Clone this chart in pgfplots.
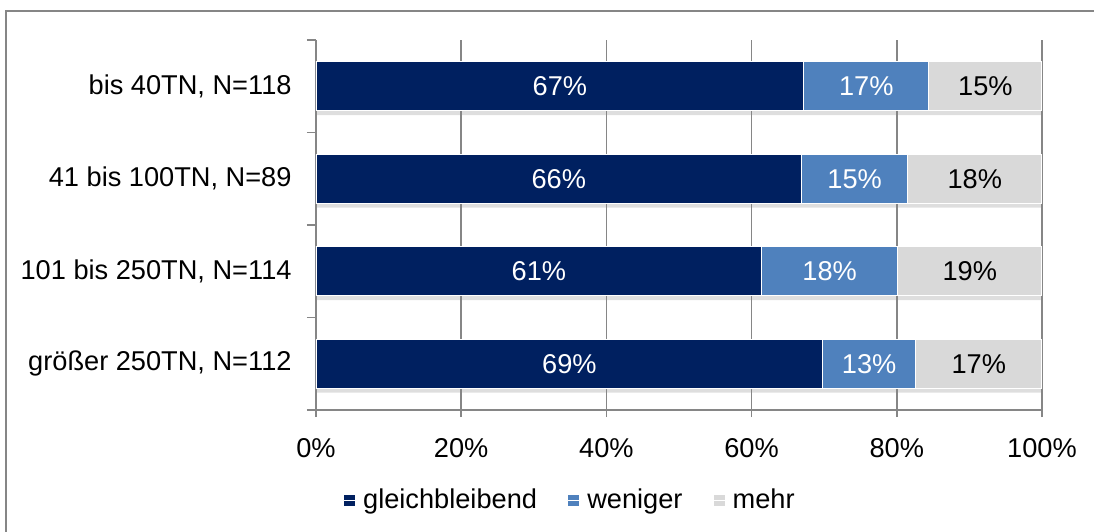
\documentclass[border=0pt]{standalone}
\usepackage{pgfplots}
\pgfplotsset{compat=1.18}
\usepackage{pgfplotstable}
\usepackage{fontspec}
\setmainfont{Liberation Sans}

\definecolor{navy}{RGB}{0,32,96}
\definecolor{midblue}{RGB}{79,129,189}
\definecolor{lightgray}{RGB}{217,217,217}
\definecolor{axgray}{RGB}{134,134,134}

% shares per group (bar lengths) and the printed, rounded labels
\pgfplotstableread{
cat a    b    c    la lb lc
0   67.2 17.2 15.6 67 17 15
1   66.9 14.6 18.5 66 15 18
2   61.4 18.7 19.9 61 18 19
3   69.8 12.8 17.4 69 13 17
}\shares

\pgfplotsset{
  common/.style={
    at={(0,0)}, anchor=south west,
    scale only axis, width=363pt, height=185pt,
    xmin=0, xmax=100, ymin=-0.5, ymax=3.5, y dir=reverse,
  },
}

\begin{document}
\fontsize{13.6}{16}\selectfont
\begin{tikzpicture}[font=\fontsize{13.6}{16}\selectfont]
\useasboundingbox (-158pt,-60.5pt) rectangle (389pt,205pt);
\draw[axgray, line width=1pt] (-155pt,-62pt) -- (-155pt,199.5pt) -- (391pt,199.5pt);

% soft shadow under the bars
\begin{axis}[common, hide axis, xbar, bar width=0.53, at={(0,-2.2pt)}]
  \addplot[fill=black, draw=none, opacity=0.13] table[x expr=\thisrow{a}+\thisrow{b}+\thisrow{c}, y=cat] {\shares};
\end{axis}

\begin{axis}[
  common,
  xbar stacked, bar width=0.53,
  axis x line*=bottom, axis y line*=left,
  axis line style={axgray, line width=0.75pt},
  xmajorgrids, grid style={axgray, line width=0.75pt},
  tick align=outside,
  xtick={0,20,...,100},
  xticklabels={0\%,20\%,40\%,60\%,80\%,100\%},
  xtick style={axgray, line width=0.75pt},
  major tick length=3.5pt,
  ytick={0,1,2,3},
  yticklabels={{bis 40TN, N=118},{41 bis 100TN, N=89},{101 bis 250TN, N=114},{größer 250TN, N=112}},
  minor ytick={-0.5,0.5,1.5,2.5,3.5},
  major y tick style={draw=none},
  minor y tick style={axgray, line width=0.75pt},
  minor tick length=4.5pt,
  xticklabel style={yshift=-6pt},
  yticklabel style={xshift=-4pt},
  legend style={at={(0.351,-0.245)}, anchor=center, draw=none, fill=none,
    legend columns=-1, /tikz/every even column/.append style={column sep=13pt}},
  legend image code/.code={\fill[#1] (0pt,-3pt) rectangle (6pt,3pt); \path (0pt,0pt) -- (7.5pt,0pt);},
]
  \addplot[fill=navy, draw=white, line width=0.6pt] table[x=a, y=cat] {\shares};
  \addlegendentry{gleichbleibend}
  \addplot[fill=midblue, draw=white, line width=0.6pt] table[x=b, y=cat] {\shares};
  \addlegendentry{weniger}
  \addplot[fill=lightgray, draw=white, line width=0.6pt] table[x=c, y=cat] {\shares};
  \addlegendentry{mehr}
\end{axis}

% value labels centred in each segment
\begin{axis}[common, hide axis,
  nodes near coords={\pgfplotspointmeta\%},
  point meta=explicit symbolic,
  every node near coord/.append style={anchor=center},
]
  \addplot[draw=none, every node near coord/.append style={white}]
    table[x expr=\thisrow{a}/2, y=cat, meta=la] {\shares};
  \addplot[draw=none, every node near coord/.append style={white}]
    table[x expr=\thisrow{a}+\thisrow{b}/2, y=cat, meta=lb] {\shares};
  \addplot[draw=none, every node near coord/.append style={black}]
    table[x expr=\thisrow{a}+\thisrow{b}+\thisrow{c}/2, y=cat, meta=lc] {\shares};
\end{axis}
\end{tikzpicture}
\end{document}
